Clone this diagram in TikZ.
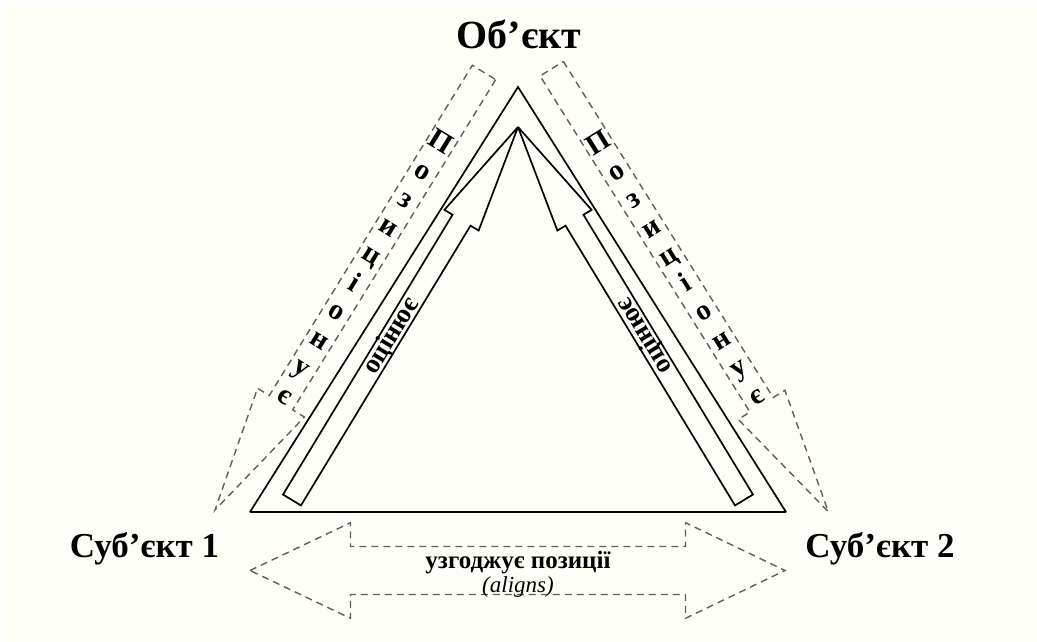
\documentclass[tikz,border=0pt]{standalone}
\usepackage{fontspec}
\setmainfont{Liberation Serif}
\usepackage{tikz}
\usetikzlibrary{calc}
\definecolor{paper}{RGB}{255, 255, 248}
\definecolor{dashgray}{RGB}{95, 95, 95}
\tikzset{
    edge/.style={draw, black, line width=1.7pt, miter limit=2},
    hint/.style={draw, dashgray, line width=1.4pt, dash pattern=on 7pt off 5pt},
    role/.style={font=\fontsize{35}{40}\selectfont\bfseries, inner sep=0pt},
    verb/.style={font=\fontsize{27}{30}\selectfont\bfseries, inner sep=0pt},
    stack/.style={font=\fontsize{29}{33}\selectfont\bfseries, align=center, inner sep=0pt}
}
% block arrow: style, base, tip, half shaft, half head, head length
\newcommand{\blockarrow}[6]{%
    \coordinate (#2-head) at ($(#3)!#6!(#2)$);
    \draw[#1] ($(#2)!#4!90:(#3)$) -- ($(#2-head)!#4!90:(#3)$) -- ($(#2-head)!#5!90:(#3)$)
        -- (#3) -- ($(#2-head)!#5!-90:(#3)$) -- ($(#2-head)!#4!-90:(#3)$) -- ($(#2)!#4!-90:(#3)$) -- cycle;
}

\begin{document}
\begin{tikzpicture}[x=1pt, y=1pt]
    % --- PAGE ---
    \useasboundingbox (0,0) rectangle (1037,642);
    \fill[white] (0,0) rectangle (1037,642);
    \fill[paper] (5,0) rectangle (1037,637);

    % --- OBJECT AND SUBJECTS ---
    \node[role, font=\fontsize{40}{44}\selectfont\bfseries] (obj) at (519,608) {Об’єкт};
    \node[role] (subj1) at (144.5,93) {Суб’єкт 1};
    \node[role] (subj2) at (880,93) {Суб’єкт 2};

    \coordinate (apex) at (518,555);
    \coordinate (left) at (250,130);
    \coordinate (right) at (786,130);
    \draw[edge] (apex) -- (left) -- (right) -- cycle;

    % --- INNER ARROWS: evaluation ---
    \coordinate (tip) at (518,515);
    \coordinate (lbase) at (292,142);
    \coordinate (rbase) at (744,142);
    \blockarrow{edge}{lbase}{tip}{10.5pt}{20pt}{109pt}
    \blockarrow{edge}{rbase}{tip}{10.5pt}{20pt}{109pt}
    \node[verb, rotate=58.8] (lverb) at ($(lbase)!0.44!(tip)$) {оцінює};
    \node[verb, rotate=121.2] (rverb) at ($(rbase)!0.44!(tip)$) {оцінює};

    % --- OUTER DASHED ARROWS: positioning ---
    \coordinate (ltop) at (484,569.5);
    \coordinate (lend) at (215,132);
    \coordinate (rtop) at (551.7,573.3);
    \coordinate (rend) at (828.3,130.3);
    \blockarrow{hint}{ltop}{lend}{13.7pt}{27.5pt}{126pt}
    \blockarrow{hint}{rtop}{rend}{13.7pt}{27.5pt}{126pt}
    \node[stack, rotate=-31.6] (lpos) at ($(ltop)!230pt!(lend)$) {П\\о\\з\\и\\ц\\і\\о\\н\\у\\є};
    \node[stack, rotate=32] (rpos) at ($(rtop)!236pt!(rend)$) {П\\о\\з\\и\\ц\\і\\о\\н\\у\\є};

    % --- BOTTOM DOUBLE ARROW: aligning ---
    \coordinate (aleft) at (250,71.5);
    \coordinate (aright) at (785,71.5);
    \coordinate (aleft-head) at (350.5,71.5);
    \coordinate (aright-head) at (685.5,71.5);
    \draw[hint] (aleft) -- ($(aleft-head)+(0,47.8)$) -- ($(aleft-head)+(0,24)$) -- ($(aright-head)+(0,24)$)
        -- ($(aright-head)+(0,47.8)$) -- (aright) -- ($(aright-head)+(0,-47.8)$) -- ($(aright-head)+(0,-24)$)
        -- ($(aleft-head)+(0,-24)$) -- ($(aleft-head)+(0,-47.8)$) -- cycle;
    \node[font=\fontsize{25}{28}\selectfont\bfseries, inner sep=0pt] (agree) at (518,79) {узгоджує позиції};
    \node[font=\fontsize{23}{28}\selectfont\itshape, inner sep=0pt] (agree-en) at (518,55) {(aligns)};

\end{tikzpicture}
\end{document}
